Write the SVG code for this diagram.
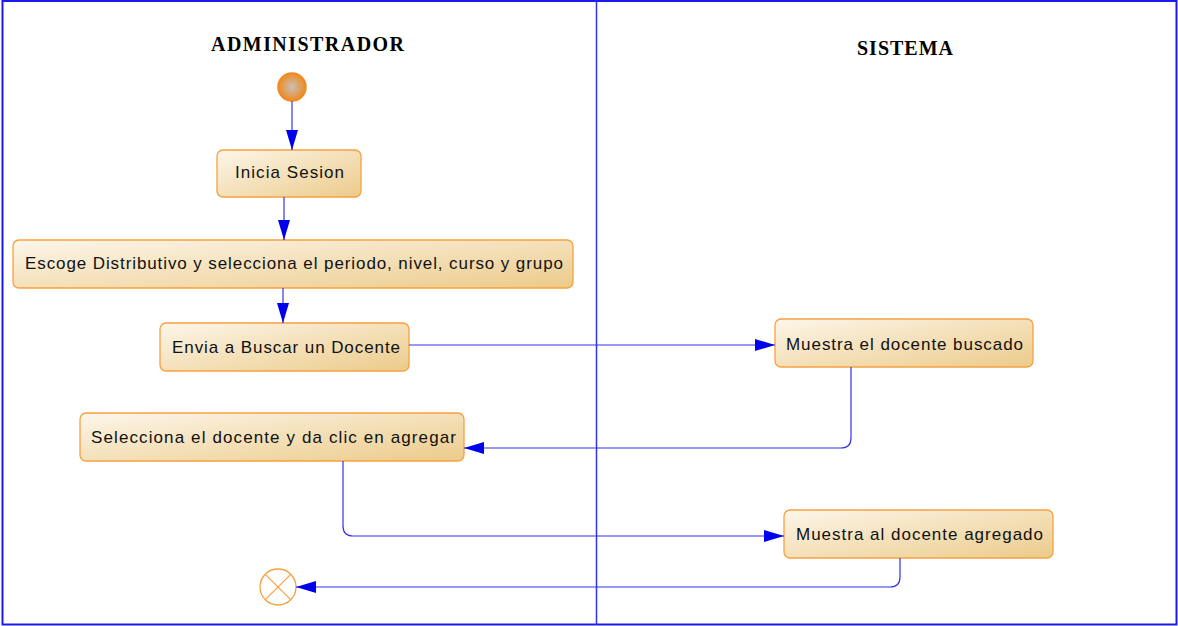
<svg xmlns="http://www.w3.org/2000/svg" width="1178" height="626" viewBox="0 0 1178 626">
<defs>
<linearGradient id="nodeGrad" x1="0" y1="0" x2="1" y2="1">
<stop offset="0" stop-color="#fdf6ea"/>
<stop offset="1" stop-color="#ebcb8a"/>
</linearGradient>
<radialGradient id="startGrad" cx="0.5" cy="0.5" r="0.5">
<stop offset="0" stop-color="#c8c0b8"/>
<stop offset="1" stop-color="#f08a20"/>
</radialGradient>
<marker id="arrow" viewBox="0 0 20 12" refX="20" refY="6" markerWidth="20" markerHeight="12" markerUnits="userSpaceOnUse" orient="auto">
<path d="M0,0 L20,6 L0,12 Z" fill="#0000ee"/>
</marker>
<style>
.node rect{fill:url(#nodeGrad);stroke:#f7a040;stroke-width:1.3}
.node text{font-family:"Liberation Sans",Arial,sans-serif;font-size:17px;fill:#111}
.hdr{font-family:"Liberation Serif","Times New Roman",serif;font-size:20px;font-weight:bold;fill:#000}
.conn path{fill:none;stroke:#3333ee;stroke-width:1.2;marker-end:url(#arrow)}
.frame{fill:none;stroke:#1a1aee;stroke-width:2}
</style>
</defs>
<rect x="0" y="0" width="1178" height="626" fill="#fff"/>
<rect class="frame" x="2.5" y="1" width="1174" height="623.5"/>
<line x1="596.5" y1="1" x2="596.5" y2="625" stroke="#3333ee" stroke-width="1.5"/>
<text class="hdr" x="211" y="51" textLength="193" lengthAdjust="spacing">ADMINISTRADOR</text>
<text class="hdr" x="857" y="55" textLength="96" lengthAdjust="spacing">SISTEMA</text>

<g id="start">
<circle cx="292" cy="87" r="14" fill="url(#startGrad)" stroke="#f08a20" stroke-width="1.5"/>
</g>
<g id="n1" class="node">
<rect x="217" y="150" width="144" height="47" rx="6"/>
<text x="235" y="178" textLength="109" lengthAdjust="spacing">Inicia Sesion</text>
</g>
<g id="n2" class="node">
<rect x="13" y="240" width="560" height="48" rx="6"/>
<text x="25" y="269" textLength="538" lengthAdjust="spacing">Escoge Distributivo y selecciona el periodo, nivel, curso y grupo</text>
</g>
<g id="n3" class="node">
<rect x="160" y="323" width="249" height="48" rx="6"/>
<text x="172" y="353" textLength="228" lengthAdjust="spacing">Envia a Buscar un Docente</text>
</g>
<g id="n4" class="node">
<rect x="775" y="319" width="258" height="48" rx="6"/>
<text x="786" y="350" textLength="237" lengthAdjust="spacing">Muestra el docente buscado</text>
</g>
<g id="n5" class="node">
<rect x="80" y="413" width="384" height="48" rx="6"/>
<text x="91" y="443" textLength="365" lengthAdjust="spacing">Selecciona el docente y da clic en agregar</text>
</g>
<g id="n6" class="node">
<rect x="784" y="510" width="269" height="48" rx="6"/>
<text x="796" y="540" textLength="247" lengthAdjust="spacing">Muestra al docente agregado</text>
</g>
<g id="end">
<circle cx="278" cy="587" r="18" fill="#fff" stroke="#f7a040" stroke-width="1.3"/>
<line x1="265.3" y1="574.3" x2="290.7" y2="599.7" stroke="#f7a040" stroke-width="1.2"/>
<line x1="290.7" y1="574.3" x2="265.3" y2="599.7" stroke="#f7a040" stroke-width="1.2"/>
</g>

<g id="connectors" class="conn">
<path d="M292,101 L292,150"/>
<path d="M284,197 L284,240"/>
<path d="M283,288 L283,323"/>
<path d="M409,345 L775,345"/>
<path d="M851,367 L851,438 Q851,448 841,448 L464,448"/>
<path d="M343,461 L343,526 Q343,536 353,536 L784,536"/>
<path d="M900,558 L900,577 Q900,587 890,587 L296,587"/>
</g>
</svg>
